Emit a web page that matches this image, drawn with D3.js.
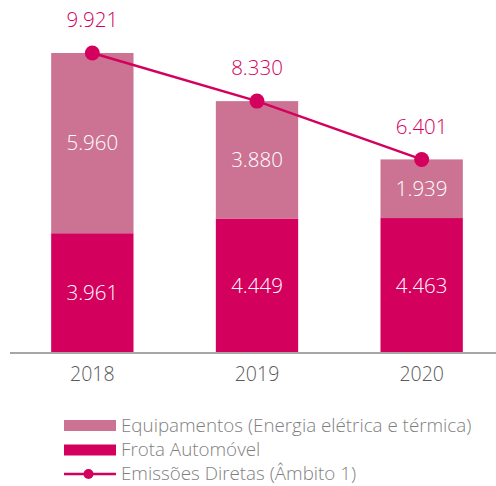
<!DOCTYPE html>
<html>
<head>
<meta charset="utf-8">
<script src="https://cdn.jsdelivr.net/npm/d3@7"></script>
<style>
  body { margin: 0; background: #fff; }
  svg { display: block; font-family: "Open Sans", sans-serif; }
</style>
</head>
<body>
<script>
(function(){

    //chart data
    var years = ["2018", "2019", "2020"];
    var frota = [3961, 4449, 4463];         //Frota Automóvel
    var equipamentos = [5960, 3880, 1939];  //Equipamentos (Energia elétrica e térmica)
    var emissoes = [9921, 8330, 6401];      //Emissões Diretas (Âmbito 1)
    var legendLabels = ["Equipamentos (Energia elétrica e térmica)", "Frota Automóvel", "Emissões Diretas (Âmbito 1)"];

    var colorDark = "#d4005e",
        colorLight = "#cc7393",
        textGray = "#595959",
        legendGray = "#7f7f7f";

    var width = 496, height = 486;

    var svg = d3.select("body")
        .append("svg")
        .attr("width", width)
        .attr("height", height);

    //scales
    var x = d3.scaleBand()
        .domain(years)
        .range([10, 504])
        .paddingInner(0.5)
        .paddingOuter(0.25);

    var y = d3.scaleLinear()
        .domain([0, 9921])
        .range([353, 53]);

    //number format with dot as thousands separator
    var fmt = function(v){ return d3.format(",")(v).replace(/,/g, "."); };

    var rows = years.map(function(yr, i){
        return { year: yr, frota: frota[i], equip: equipamentos[i], total: emissoes[i] };
    });

    //bottom segment (frota)
    svg.selectAll(".barFrota")
        .data(rows)
        .enter()
        .append("rect")
        .attr("class", "barFrota")
        .attr("x", function(d){ return x(d.year); })
        .attr("width", x.bandwidth())
        .attr("y", function(d){ return y(d.frota); })
        .attr("height", function(d){ return y(0) - y(d.frota); })
        .style("fill", colorDark);

    //top segment (equipamentos)
    svg.selectAll(".barEquip")
        .data(rows)
        .enter()
        .append("rect")
        .attr("class", "barEquip")
        .attr("x", function(d){ return x(d.year); })
        .attr("width", x.bandwidth())
        .attr("y", function(d){ return y(d.frota + d.equip); })
        .attr("height", function(d){ return y(d.frota) - y(d.frota + d.equip); })
        .style("fill", colorLight);

    //labels inside bars
    svg.selectAll(".lblFrota")
        .data(rows)
        .enter()
        .append("text")
        .attr("x", function(d){ return x(d.year) + x.bandwidth() / 2; })
        .attr("y", function(d){ return (y(0) + y(d.frota)) / 2; })
        .attr("dy", "0.35em")
        .attr("text-anchor", "middle")
        .style("fill", "#fff")
        .style("font-size", "20.5px")
        .style("font-weight", 300)
        .text(function(d){ return fmt(d.frota); });

    svg.selectAll(".lblEquip")
        .data(rows)
        .enter()
        .append("text")
        .attr("x", function(d){ return x(d.year) + x.bandwidth() / 2; })
        .attr("y", function(d){ return (y(d.frota) + y(d.frota + d.equip)) / 2; })
        .attr("dy", "0.35em")
        .attr("text-anchor", "middle")
        .style("fill", "#fff")
        .style("font-size", "20.5px")
        .style("font-weight", 300)
        .text(function(d){ return fmt(d.equip); });

    //x axis
    var xAxis = d3.axisBottom(x).tickSize(0).tickPadding(14);
    var axis = svg.append("g")
        .attr("transform", "translate(0," + y(0) + ")")
        .call(xAxis);
    axis.select(".domain").remove();
    axis.append("line")
        .attr("x1", 10).attr("x2", 496)
        .attr("stroke", "#a6a6a6")
        .attr("stroke-width", 2);
    axis.selectAll("text")
        .style("font-size", "19.5px")
        .style("font-weight", 300)
        .style("font-family", "'Open Sans', sans-serif")
        .style("fill", textGray);

    //line for total emissions
    var line = d3.line()
        .x(function(d){ return x(d.year) + x.bandwidth() / 2; })
        .y(function(d){ return y(d.total); });

    svg.append("path")
        .datum(rows)
        .attr("d", line)
        .attr("fill", "none")
        .attr("stroke", colorDark)
        .attr("stroke-width", 2.5);

    svg.selectAll(".dot")
        .data(rows)
        .enter()
        .append("circle")
        .attr("cx", function(d){ return x(d.year) + x.bandwidth() / 2; })
        .attr("cy", function(d){ return y(d.total); })
        .attr("r", 7.5)
        .style("fill", colorDark);

    svg.selectAll(".lblTotal")
        .data(rows)
        .enter()
        .append("text")
        .attr("x", function(d){ return x(d.year) + x.bandwidth() / 2; })
        .attr("y", function(d){ return y(d.total) - 33; })
        .attr("dy", "0.35em")
        .attr("text-anchor", "middle")
        .style("fill", colorDark)
        .style("font-size", "20.5px")
        .style("font-weight", 300)
        .text(function(d){ return fmt(d.total); });

    //legend
    var legend = svg.append("g").attr("transform", "translate(64,0)");
    var legY = [425.5, 450, 474];

    legend.append("rect")
        .attr("x", 0).attr("y", legY[0] - 5.5)
        .attr("width", 52).attr("height", 11)
        .style("fill", colorLight);
    legend.append("rect")
        .attr("x", 0).attr("y", legY[1] - 5.5)
        .attr("width", 52).attr("height", 11)
        .style("fill", colorDark);
    legend.append("line")
        .attr("x1", 0).attr("x2", 52)
        .attr("y1", legY[2]).attr("y2", legY[2])
        .attr("stroke", colorDark)
        .attr("stroke-width", 2.5);
    legend.append("circle")
        .attr("cx", 24.5).attr("cy", legY[2])
        .attr("r", 5)
        .style("fill", colorDark);

    legend.selectAll(".legText")
        .data(legendLabels)
        .enter()
        .append("text")
        .attr("x", 57)
        .attr("y", function(d, i){ return legY[i]; })
        .attr("dy", "0.32em")
        .style("fill", legendGray)
        .style("font-size", "18.8px")
        .style("font-weight", 300)
        .text(function(d){ return d; });

})();
</script>
</body>
</html>
